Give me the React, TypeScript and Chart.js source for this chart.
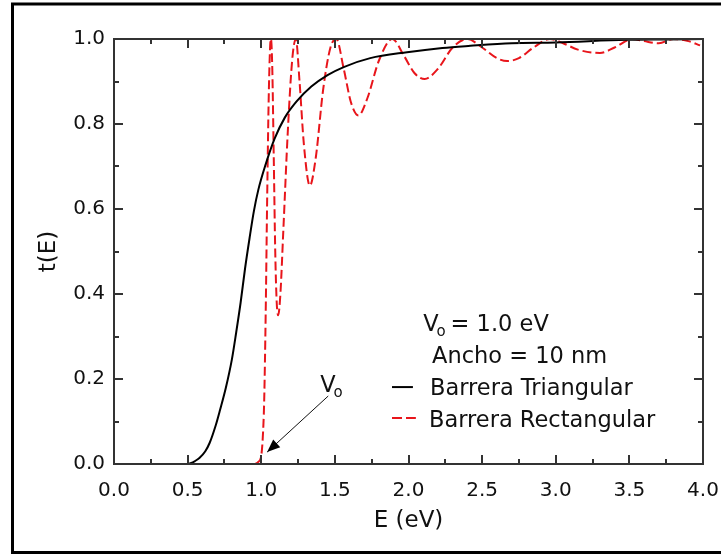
import React, { useEffect, useRef } from 'react';
import { Chart, registerables } from 'chart.js';

Chart.register(...registerables);

// ---- data ----
const triEnergy = [0.50, 0.52, 0.55, 0.58, 0.62, 0.65, 0.69, 0.72, 0.76, 0.80, 0.83, 0.86, 0.89, 0.92, 0.95, 0.98, 1.03, 1.09, 1.16, 1.24, 1.34, 1.45, 1.56, 1.74, 1.99, 2.23, 2.42, 2.70, 3.00, 3.48, 3.75, 4.00];
const triT = [0.0, 0.002, 0.007, 0.014, 0.03, 0.05, 0.09, 0.127, 0.18, 0.245, 0.31, 0.38, 0.46, 0.53, 0.595, 0.645, 0.705, 0.765, 0.815, 0.853, 0.888, 0.915, 0.934, 0.955, 0.969, 0.979, 0.984, 0.99, 0.992, 0.998, 0.999, 1.0];

const rectEnergy = [0.96, 0.98, 1.00, 1.01, 1.02, 1.03, 1.04, 1.05, 1.06, 1.066, 1.075, 1.085, 1.095, 1.105, 1.115, 1.13, 1.15, 1.18, 1.21, 1.235, 1.26, 1.29, 1.33, 1.37, 1.42, 1.47, 1.51, 1.56, 1.61, 1.66, 1.72, 1.80, 1.89, 1.97, 2.04, 2.11, 2.20, 2.30, 2.40, 2.50, 2.60, 2.67, 2.75, 2.85, 2.96, 3.05, 3.15, 3.30, 3.40, 3.52, 3.60, 3.70, 3.80, 3.90, 3.98];
const rectT = [0.0, 0.005, 0.02, 0.06, 0.15, 0.35, 0.62, 0.85, 0.98, 1.0, 0.93, 0.72, 0.5, 0.38, 0.35, 0.4, 0.55, 0.78, 0.95, 1.0, 0.9, 0.75, 0.655, 0.72, 0.88, 0.98, 1.0, 0.93, 0.85, 0.82, 0.86, 0.95, 1.0, 0.96, 0.92, 0.906, 0.93, 0.98, 1.0, 0.98, 0.955, 0.948, 0.955, 0.98, 1.0, 0.99, 0.975, 0.967, 0.98, 1.0, 0.995, 0.99, 1.0, 0.995, 0.985];

const xMin = 0, xMax = 4, xStep = 0.5, xMinorStep = 0.25;
const yMin = 0, yMax = 1, yStep = 0.2, yMinorStep = 0.1;

const seriesNames = ['Barrera Triangular', 'Barrera Rectangular'];
const infoLines = ['= 1.0 eV', 'Ancho = 10 nm'];

const FONT = '"DejaVu Sans", sans-serif';

const decorPlugin = {
  id: 'decor',
  beforeDraw(chart: any) {
    const { ctx, width, height } = chart;
    ctx.save();
    ctx.fillStyle = '#ffffff';
    ctx.fillRect(0, 0, width, height);
    ctx.restore();
  },
  afterDraw(chart: any) {
    const { ctx } = chart;
    const { left, right, top, bottom } = chart.chartArea;
    const xs = chart.scales.x;
    const ys = chart.scales.y;
    ctx.save();
    // outer frame (right side lies outside the picture)
    ctx.strokeStyle = '#000';
    ctx.lineWidth = 3;
    ctx.beginPath();
    ctx.moveTo(900, 4);
    ctx.lineTo(12.5, 4);
    ctx.lineTo(12.5, 552.5);
    ctx.lineTo(900, 552.5);
    ctx.stroke();

    // plot frame
    ctx.strokeStyle = '#333';
    ctx.lineWidth = 2;
    ctx.strokeRect(left, top, right - left, bottom - top);

    // inner ticks
    ctx.beginPath();
    const nx = Math.round((xMax - xMin) / xMinorStep);
    for (let i = 1; i < nx; i++) {
      const v = xMin + i * xMinorStep;
      const major = Math.abs(v / xStep - Math.round(v / xStep)) < 1e-6;
      const len = major ? 9 : 5;
      const px = Math.round(xs.getPixelForValue(v));
      ctx.moveTo(px, bottom); ctx.lineTo(px, bottom - len);
      ctx.moveTo(px, top); ctx.lineTo(px, top + len);
    }
    const ny = Math.round((yMax - yMin) / yMinorStep);
    for (let i = 1; i < ny; i++) {
      const v = yMin + i * yMinorStep;
      const major = Math.abs(v / yStep - Math.round(v / yStep)) < 1e-6;
      const len = major ? 9 : 5;
      const py = Math.round(ys.getPixelForValue(v));
      ctx.moveTo(left, py); ctx.lineTo(left + len, py);
      ctx.moveTo(right, py); ctx.lineTo(right - len, py);
    }
    ctx.stroke();

    // annotation text block
    const X = (v: number) => xs.getPixelForValue(v);
    const Y = (v: number) => ys.getPixelForValue(v);
    ctx.fillStyle = '#111';
    ctx.textBaseline = 'alphabetic';
    ctx.textAlign = 'left';
    const big = '22.5px ' + FONT;
    const sub = '15px ' + FONT;

    // V0 = 1.0 eV
    const x0 = X(2.10), y0 = Y(0.313);
    ctx.font = big;
    ctx.fillText('V', x0, y0);
    const vw = ctx.measureText('V').width;
    ctx.font = sub;
    ctx.fillText('o', x0 + vw - 2, y0 + 5);
    ctx.font = big;
    ctx.fillText(infoLines[0], x0 + vw + 12, y0);

    // Ancho
    ctx.fillText(infoLines[1], X(2.16), Y(0.238));

    // legend
    ctx.fillText(seriesNames[0], X(2.146), Y(0.163));
    ctx.fillText(seriesNames[1], X(2.139), Y(0.087));
    ctx.lineWidth = 2;
    ctx.strokeStyle = '#000';
    ctx.beginPath();
    ctx.moveTo(X(1.888), Y(0.181)); ctx.lineTo(X(2.03), Y(0.181));
    ctx.stroke();
    ctx.strokeStyle = '#e8151b';
    ctx.setLineDash([10, 4]);
    ctx.beginPath();
    ctx.moveTo(X(1.888), Y(0.108)); ctx.lineTo(X(2.05), Y(0.108));
    ctx.stroke();
    ctx.setLineDash([]);

    // V0 arrow label
    const lx = X(1.40), ly = Y(0.17);
    ctx.font = big;
    ctx.fillText('V', lx, ly);
    ctx.font = sub;
    ctx.fillText('o', lx + vw - 2, ly + 5);

    // arrow
    const ax0 = X(1.455), ay0 = Y(0.16);
    const ax1 = X(1.04), ay1 = Y(0.028);
    ctx.strokeStyle = '#111';
    ctx.lineWidth = 1;
    ctx.beginPath();
    ctx.moveTo(ax0, ay0); ctx.lineTo(ax1, ay1);
    ctx.stroke();
    const ang = Math.atan2(ay1 - ay0, ax1 - ax0);
    const hl = 14, hw = 0.38;
    ctx.fillStyle = '#000';
    ctx.beginPath();
    ctx.moveTo(ax1, ay1);
    ctx.lineTo(ax1 - hl * Math.cos(ang - hw), ay1 - hl * Math.sin(ang - hw));
    ctx.lineTo(ax1 - hl * Math.cos(ang + hw), ay1 - hl * Math.sin(ang + hw));
    ctx.closePath();
    ctx.fill();

    ctx.restore();
  },
};

export default function App() {
  const canvasRef = useRef<HTMLCanvasElement | null>(null);

  useEffect(() => {
    const canvas = canvasRef.current;
    if (!canvas) return;
    const chart = new Chart(canvas, {
      type: 'line',
      data: {
        datasets: [
          {
            label: seriesNames[0],
            data: triEnergy.map((e, i) => ({ x: e, y: triT[i] })),
            borderColor: '#000000',
            borderWidth: 2,
            pointRadius: 0,
            cubicInterpolationMode: 'monotone',
            fill: false,
          },
          {
            label: seriesNames[1],
            data: rectEnergy.map((e, i) => ({ x: e, y: rectT[i] })),
            borderColor: '#e8151b',
            borderWidth: 2,
            borderDash: [9, 4],
            pointRadius: 0,
            cubicInterpolationMode: 'monotone',
            fill: false,
          },
        ],
      },
      options: {
        animation: false,
        responsive: false,
        devicePixelRatio: 1,
        layout: { padding: { left: 0, top: 39, right: 18, bottom: 20 } },
        plugins: {
          legend: { display: false },
          tooltip: { enabled: false },
        },
        scales: {
          x: {
            type: 'linear',
            min: xMin,
            max: xMax,
            grid: { display: false, drawTicks: true, tickLength: 15 },
            border: { display: false },
            ticks: {
              stepSize: xStep,
              padding: 0,
              color: '#111',
              font: { family: FONT, size: 20 },
              maxRotation: 0,
              autoSkip: false,
              callback: (v: any) => Number(v).toFixed(1),
            },
            title: {
              display: true,
              text: 'E (eV)',
              color: '#111',
              font: { family: FONT, size: 23 },
              padding: { top: 0, bottom: 1 },
            },
            afterFit: (s: any) => { s.height = 72; },
          },
          y: {
            type: 'linear',
            min: yMin,
            max: yMax,
            grid: { display: false, drawTicks: false },
            border: { display: false },
            ticks: {
              stepSize: yStep,
              padding: 9,
              color: '#111',
              font: { family: FONT, size: 20 },
              callback: (v: any) => Number(v).toFixed(1),
            },
            title: {
              display: true,
              text: 't(E)',
              color: '#111',
              font: { family: FONT, size: 23 },
              padding: { top: 35, bottom: 0 },
            },
            afterFit: (s: any) => { s.width = 114; },
          },
        },
      },
      plugins: [decorPlugin],
    } as any);
    return () => chart.destroy();
  }, []);

  return (
    <div style={{ position: 'absolute', left: 0, top: 0, width: 721, height: 556 }}>
      <canvas ref={canvasRef} width={721} height={556} style={{ display: 'block', width: 721, height: 556 }} />
    </div>
  );
}
